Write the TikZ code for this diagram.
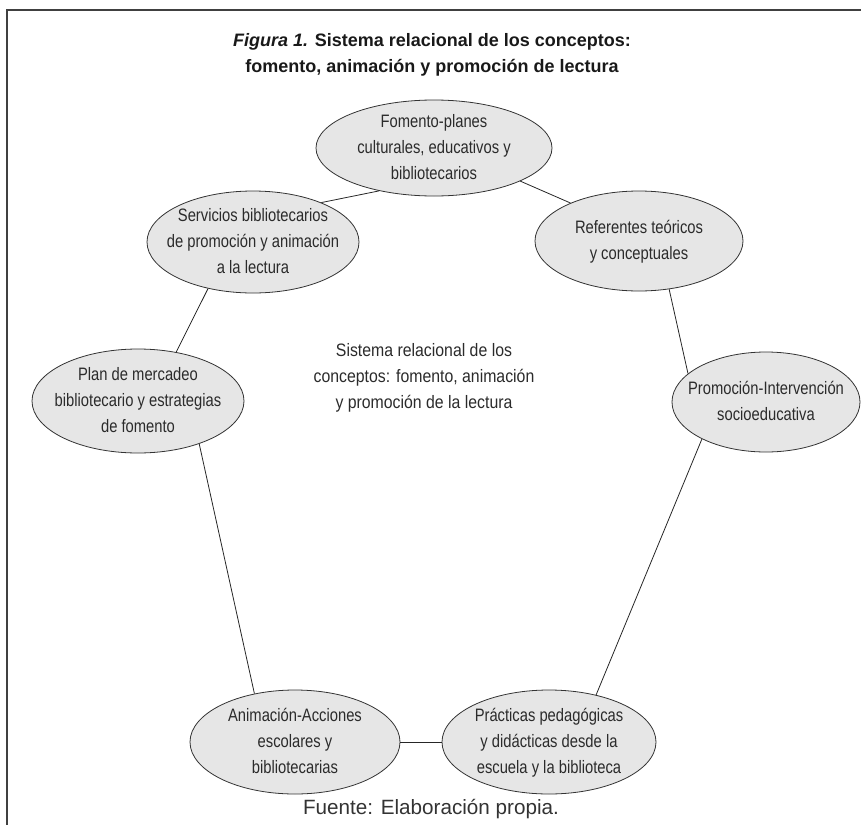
\documentclass[tikz,border=0pt]{standalone}
\usepackage{fontspec}
\setmainfont{Liberation Sans}
\newfontfamily\condfont[FakeStretch=0.82]{Liberation Sans}
\newfontfamily\midfont[FakeStretch=0.88]{Liberation Sans}
\usetikzlibrary{shapes.geometric}
\definecolor{ovfill}{HTML}{E6E6E6}
\definecolor{ovdraw}{HTML}{333333}
\definecolor{txtc}{HTML}{2B2B2B}
% text of an oval: centred, takes no room, so the oval keeps its own size
\newcommand\ovtxt[1]{\smash{\raisebox{-.3em}{\makebox[0pt]{\begin{tabular}{@{}c@{}}#1\end{tabular}}}}}

\begin{document}
\begin{tikzpicture}[
  x=0.75pt, y=-0.75pt,
  oval/.style={ellipse, draw=ovdraw, fill=ovfill, line width=.6pt, inner sep=0pt, text=txtc,
               font=\condfont\fontsize{13.5}{19.5}\selectfont},
  link/.style={line width=.6pt, black!85},
  frame/.style={line width=1.4pt, black!75},
  title/.style={font=\bfseries\fontsize{13.5}{19.5}\selectfont, align=center, text=black!90},
  mid/.style={font=\midfont\fontsize{13.5}{19.5}\selectfont, align=center, text=txtc},
  src/.style={font=\fontsize{15.5}{18}\selectfont, text=black!80},
]
\useasboundingbox (0,0) rectangle (861,825);

% ---------------- frame
\draw[frame] (861,10) -- (7,10) -- (7,825);

% ---------------- title
\node[title] (title) at (432,55) {\textit{Figura 1.} Sistema relacional de los conceptos:\\fomento, animación y promoción de lectura};

% ---------------- ovals
\node[oval, minimum width=236*0.75pt, minimum height=96*0.75pt] (fom) at (434,148)
  {\ovtxt{Fomento-planes\\culturales, educativos y\\bibliotecarios}};
\node[oval, minimum width=208*0.75pt, minimum height=100*0.75pt] (ref) at (639,241)
  {\ovtxt{Referentes teóricos\\y conceptuales}};
\node[oval, minimum width=212*0.75pt, minimum height=102*0.75pt] (serv) at (253,242)
  {\ovtxt{Servicios bibliotecarios\\de promoción y animación\\a la lectura}};
\node[oval, minimum width=188*0.75pt, minimum height=100*0.75pt] (prom) at (766,402)
  {\ovtxt{Promoción-Intervención\\socioeducativa}};
\node[oval, minimum width=212*0.75pt, minimum height=104*0.75pt] (plan) at (138,401)
  {\ovtxt{Plan de mercadeo\\bibliotecario y estrategias\\de fomento}};
\node[oval, minimum width=210*0.75pt, minimum height=104*0.75pt] (anim) at (295,742)
  {\ovtxt{Animación-Acciones\\escolares y\\bibliotecarias}};
\node[oval, minimum width=214*0.75pt, minimum height=104*0.75pt] (prac) at (549,742)
  {\ovtxt{Prácticas pedagógicas\\y didácticas desde la\\escuela y la biblioteca}};

% ---------------- centre text
\node[mid] (sys) at (424,378) {Sistema relacional de los\\conceptos: fomento, animación\\y promoción de la lectura};

% ---------------- links
\draw[link] (fom.218) -- (serv.30);
\draw[link] (fom.-21) -- (ref.151);
\draw[link] (ref.-58) -- (prom.160);
\draw[link] (serv.226) -- (plan.52);
\draw[link] (plan.-35) -- (anim.130);
\draw[link] (anim) -- (prac);
\draw[link] (prac.45) -- (prom.210);

% ---------------- source
\node[src] (fuente) at (431,809) {Fuente: Elaboración propia.};

\end{tikzpicture}
\end{document}
